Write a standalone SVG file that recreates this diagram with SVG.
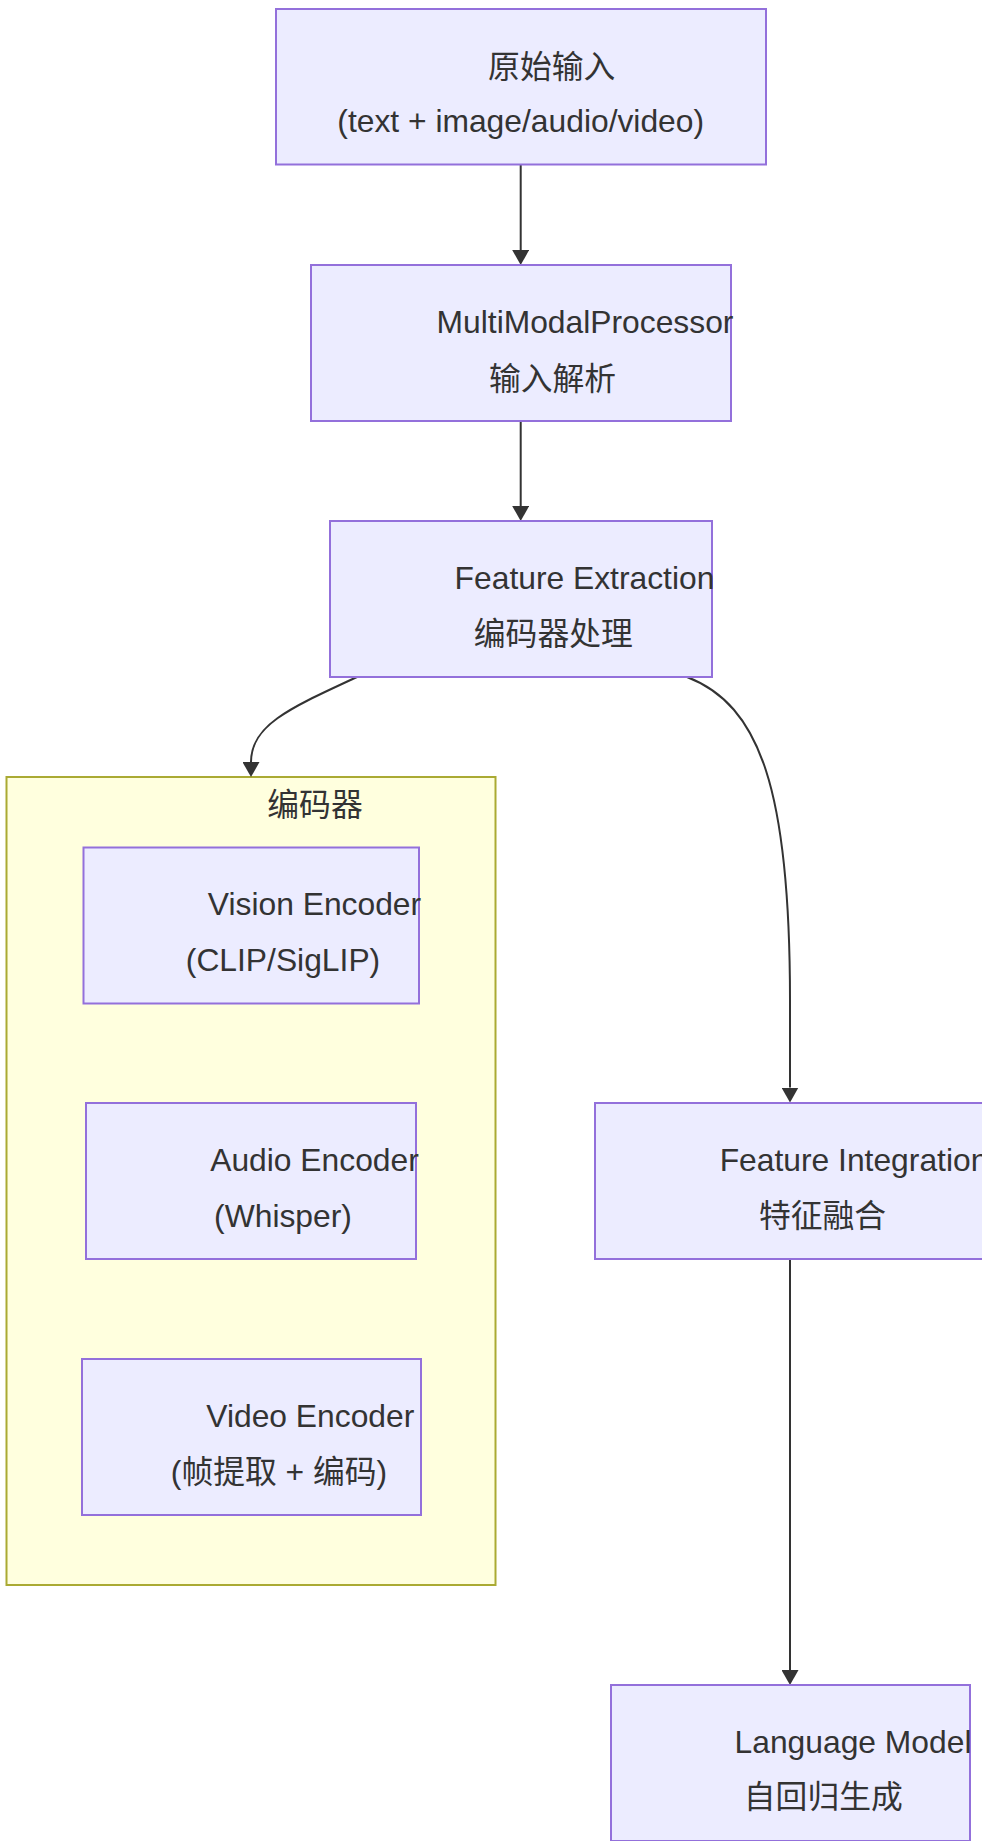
<svg xmlns="http://www.w3.org/2000/svg" width="982" height="1841" viewBox="0 0 982 1841">
  <style>
    .bg { fill: #ffffff; }
    .node rect { fill: #ECECFF; stroke: #9370DB; stroke-width: 2; }
    .cluster rect { fill: #ffffde; stroke: #aaaa33; stroke-width: 2; }
    text { font-family: "Liberation Sans", Arial, "Noto Sans CJK SC", sans-serif; font-size: 31.8px; fill: #333333; text-anchor: middle; }
    .edge { fill: none; stroke: #333333; stroke-width: 2; }
  </style>
  <defs>
    <marker id="arrowhead" markerUnits="userSpaceOnUse" markerWidth="16" markerHeight="17" refX="0" refY="8.5" orient="auto">
      <path d="M0,0 L15,8.5 L0,17 z" fill="#333333"/>
    </marker>
  </defs>

  <rect class="bg" x="0" y="0" width="982" height="1841"/>

  <!-- encoder subgraph -->
  <g id="cluster-encoders" class="cluster">
    <rect x="6.5" y="777" width="489" height="808"/>
    <text x="315" y="816">编码器</text>
  </g>

  <!-- connectors -->
  <g id="edges">
    <path class="edge" d="M520.7,164.5 L520.7,250" marker-end="url(#arrowhead)"/>
    <path class="edge" d="M520.7,421 L520.7,506" marker-end="url(#arrowhead)"/>
    <path class="edge" d="M357,677 C290,708 251,725 251,762" marker-end="url(#arrowhead)"/>
    <path class="edge" d="M687,677 C760,705 790,790 790,1000 L790,1087.5" marker-end="url(#arrowhead)"/>
    <path class="edge" d="M790,1259 L790,1670" marker-end="url(#arrowhead)"/>
  </g>

  <g id="node-input" class="node">
    <rect x="276" y="9" width="490" height="155.5"/>
    <text x="551.7" y="77.5">原始输入</text>
    <text x="520.7" y="132">(text + image/audio/video)</text>
  </g>

  <g id="node-processor" class="node">
    <rect x="311" y="265" width="420" height="156"/>
    <text x="585" y="333.3">MultiModalProcessor</text>
    <text x="552.5" y="389.5">输入解析</text>
  </g>

  <g id="node-extraction" class="node">
    <rect x="330" y="521" width="382" height="156"/>
    <text x="584.5" y="589.3">Feature Extraction</text>
    <text x="553.3" y="644.5">编码器处理</text>
  </g>

  <g id="node-vision" class="node">
    <rect x="83.5" y="847.5" width="335.5" height="156"/>
    <text x="314.5" y="915">Vision Encoder</text>
    <text x="283" y="971">(CLIP/SigLIP)</text>
  </g>

  <g id="node-audio" class="node">
    <rect x="86" y="1103" width="330" height="156"/>
    <text x="314.5" y="1170.7">Audio Encoder</text>
    <text x="283" y="1226.7">(Whisper)</text>
  </g>

  <g id="node-video" class="node">
    <rect x="82" y="1359" width="339" height="156"/>
    <text x="310.3" y="1427.3">Video Encoder</text>
    <text x="279" y="1483.3">(帧提取 + 编码)</text>
  </g>

  <g id="node-integration" class="node">
    <rect x="595" y="1103" width="390" height="156"/>
    <text x="854" y="1170.7">Feature Integration</text>
    <text x="822.5" y="1227">特征融合</text>
  </g>

  <g id="node-language-model" class="node">
    <rect x="611" y="1685" width="359" height="156"/>
    <text x="853" y="1752.7">Language Model</text>
    <text x="823.3" y="1808">自回归生成</text>
  </g>
</svg>
